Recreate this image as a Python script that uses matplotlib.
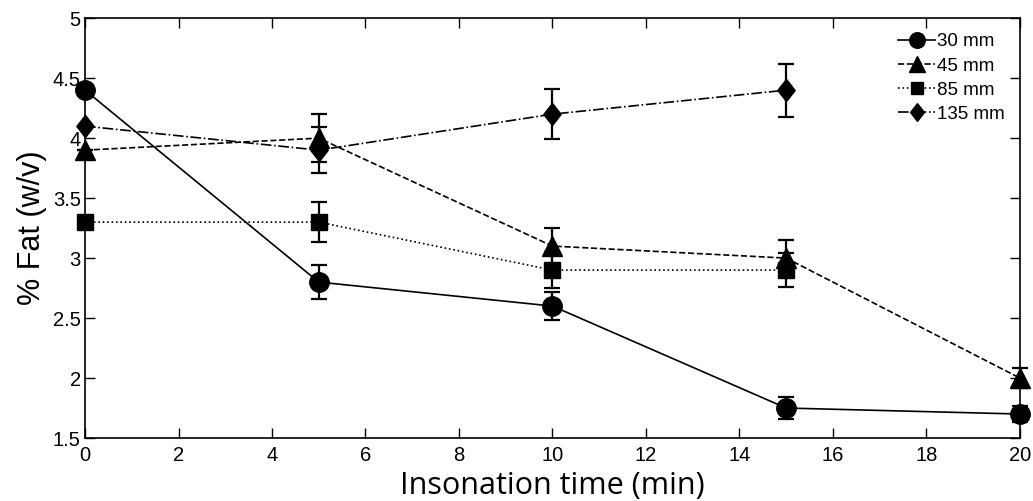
import matplotlib
matplotlib.use('Agg')
import matplotlib.pyplot as plt
from matplotlib.lines import Line2D

# insonation time (min)
time = [0, 5, 10, 15, 20]

# % fat for each distance (85 and 135 mm stop at 15 min)
fat_30 = [4.4, 2.8, 2.6, 1.75, 1.7]
err_30 = [0.0, 0.14, 0.12, 0.09, 0.07]
fat_45 = [3.9, 4.0, 3.1, 3.0, 2.0]
err_45 = [0.0, 0.2, 0.15, 0.15, 0.08]
fat_85 = [3.3, 3.3, 2.9, 2.9]
err_85 = [0.0, 0.17, 0.15, 0.14]
fat_135 = [4.1, 3.9, 4.2, 4.4]
err_135 = [0.0, 0.19, 0.21, 0.22]

labels = ['30 mm', '45 mm', '85 mm', '135 mm']
xticks = [0, 2, 4, 6, 8, 10, 12, 14, 16, 18, 20]
yticks = [1.5, 2, 2.5, 3, 3.5, 4, 4.5, 5]

# slightly tall diamond like the original
diamond = [(0, 1), (0.78, 0), (0, -1), (-0.78, 0), (0, 1)]

fig = plt.figure(figsize=(10.33, 5.01), dpi=100)
ax = fig.add_axes([0.0823, 0.1257, 0.905, 0.838])

series = [
    (time, fat_30, err_30, 'o', '-', 14),
    (time, fat_45, err_45, '^', '--', 14),
    (time[:4], fat_85, err_85, 's', ':', 11.5),
    (time[:4], fat_135, err_135, diamond, '-.', 16),
]
handles = []
for (x, y, e, m, ls, ms), lab in zip(series, labels):
    ax.errorbar(x, y, yerr=e, color='black', marker=m, ls=ls, lw=1.2,
                ms=ms, mfc='black', mec='black', capsize=6, capthick=1.6,
                elinewidth=1.6, clip_on=False, zorder=3)
    handles.append(Line2D([], [], color='black', marker=m, ls=ls, lw=1.2,
                          ms=ms * 0.8, label=lab))

ax.set_xlim(0, 20)
ax.set_ylim(1.5, 5)
ax.set_xticks(xticks)
ax.set_yticks(yticks)
ax.set_xticklabels([str(t) for t in xticks], family='Liberation Sans', fontsize=14.5)
ax.set_yticklabels([('%g' % t) for t in yticks], family='Liberation Sans', fontsize=14.5)
ax.tick_params(direction='in', length=7, width=1, top=True, right=True)
ax.tick_params(axis='x', pad=6)
ax.tick_params(axis='y', pad=3)
for sp in ax.spines.values():
    sp.set_linewidth(1.2)

ax.set_xlabel('Insonation time (min)', family='Open Sans', fontsize=22, labelpad=4)
ax.set_ylabel('% Fat (w/v)', family='Liberation Sans', fontsize=22, labelpad=4)

ax.legend(handles=handles, loc='upper right', frameon=False, handlelength=2.0,
          handletextpad=0.1, labelspacing=0.38, borderaxespad=0.4,
          prop={'family': 'Liberation Sans', 'size': 13.5})

plt.savefig('out.png', dpi=100)
plt.close()
